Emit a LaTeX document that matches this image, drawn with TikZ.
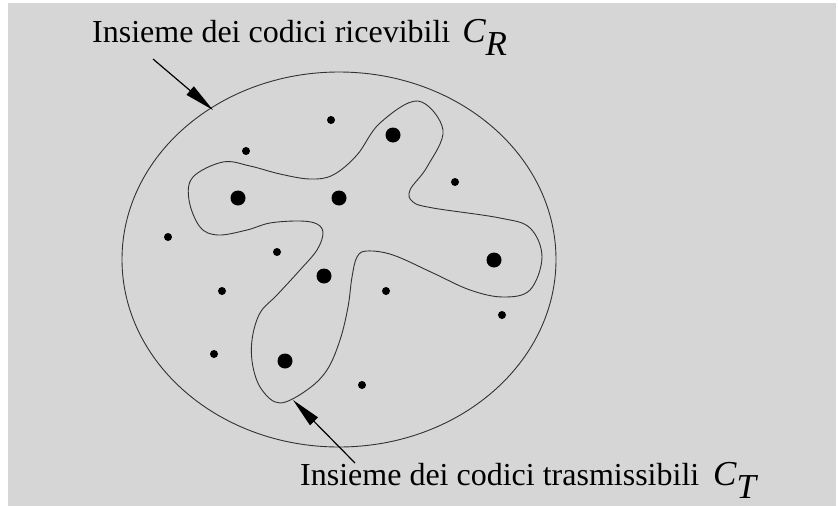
\documentclass[tikz,border=0pt]{standalone}
\usepackage{fontspec}
\setmainfont{Liberation Serif}
\usetikzlibrary{arrows.meta}
\definecolor{paper}{RGB}{214,214,214}
\definecolor{rim}{RGB}{50,50,50}
\newcommand{\setsym}[1]{{\fontsize{35}{35}\selectfont\itshape C\raisebox{-13pt}{#1}}}
\begin{document}
\begin{tikzpicture}[
x=1pt,y=-1pt,
every node/.style={inner sep=0pt},
codeword/.style={circle,fill=black,minimum size=15pt},
received/.style={circle,fill=black,minimum size=8pt},
pointer/.style={black,line width=1.2pt,-{Triangle[length=30pt,width=11pt]}},
border/.style={rim,line width=0.9pt},
label/.style={anchor=base west,font=\fontsize{32}{34}\selectfont}
]
\useasboundingbox (0,0) rectangle (838,506);
\fill[white] (0,0) rectangle (838,506);
\fill[paper] (8,3) rectangle (836,506);
% insieme dei codici ricevibili
\draw[border] (339,259.5) ellipse [x radius=217pt,y radius=187.5pt];
% insieme dei codici trasmissibili
\draw[border] plot[smooth cycle,tension=0.6] coordinates {
(418,101) (443,130) (427,167) (410,190) (413,202) (433,208) (500,218)
(530,228) (542,257) (530,290) (503,297) (470,290) (433,273) (393,255)
(367,251) (357,257) (352,277) (348,307) (340,340) (327,370) (307,390)
(280,403) (262,390) (253,367) (252,340) (260,313) (277,295) (300,270)
(317,250) (323,233) (317,224) (300,221) (270,223) (247,230) (218,235)
(200,227) (189,200) (193,177) (223,162) (250,166) (280,174) (310,179)
(333,175) (357,155) (380,123)};
\node[codeword] (1) at (393,135) {};
\node[codeword] (2) at (238,198) {};
\node[codeword] (3) at (339,198) {};
\node[codeword] (4) at (494,260) {};
\node[codeword] (5) at (324,276) {};
\node[codeword] (6) at (285,361) {};
\node[received] (7) at (331,120) {};
\node[received] (8) at (246,151) {};
\node[received] (9) at (455,182) {};
\node[received] (10) at (168,237) {};
\node[received] (11) at (277,252) {};
\node[received] (12) at (222,291) {};
\node[received] (13) at (386,291) {};
\node[received] (14) at (502,315) {};
\node[received] (15) at (214,354) {};
\node[received] (16) at (362,385) {};
\node[label] (CR) at (92,42) {Insieme dei codici ricevibili\hspace{12pt}\setsym{R}};
\node[label] (CT) at (300,485) {Insieme dei codici trasmissibili\hspace{14pt}\setsym{T}};
\coordinate (tailR) at (153,59);
\coordinate (tipR) at (213,110);
\coordinate (tailT) at (355,463);
\coordinate (tipT) at (293,400);
\draw[pointer] (tailR) -- (tipR);
\draw[pointer] (tailT) -- (tipT);
\end{tikzpicture}
\end{document}
